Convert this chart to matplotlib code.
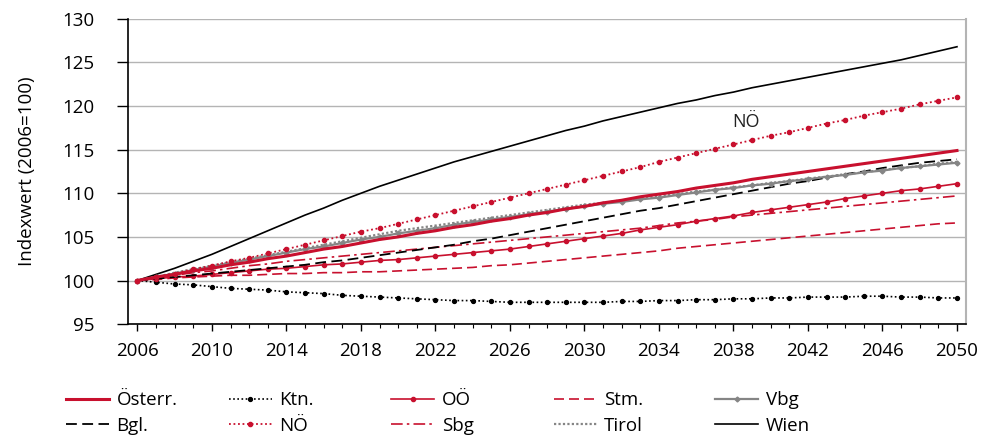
import numpy as np
import matplotlib
matplotlib.use("Agg")
from matplotlib import pyplot as plt
from matplotlib.ticker import MultipleLocator

plt.rcParams['font.family'] = ['Open Sans', 'DejaVu Sans']

years = list(range(2006, 2051))

oesterr = [100.0, 100.4, 100.7, 101.1, 101.4, 101.8, 102.1, 102.5, 102.8, 103.2,
           103.6, 103.9, 104.3, 104.7, 105.0, 105.4, 105.7, 106.1, 106.4, 106.8,
           107.1, 107.5, 107.8, 108.2, 108.5, 108.9, 109.2, 109.6, 109.9, 110.2,
           110.6, 110.9, 111.2, 111.6, 111.9, 112.2, 112.5, 112.8, 113.1, 113.4,
           113.7, 114.0, 114.3, 114.6, 114.9]
bgl = [100.0, 100.2, 100.4, 100.6, 100.8, 101.0, 101.2, 101.4, 101.6, 101.8,
       102.1, 102.3, 102.6, 102.9, 103.2, 103.5, 103.8, 104.1, 104.5, 104.8,
       105.2, 105.6, 106.0, 106.4, 106.8, 107.2, 107.6, 108.0, 108.3, 108.7,
       109.1, 109.5, 109.9, 110.3, 110.7, 111.1, 111.4, 111.8, 112.2, 112.5,
       112.9, 113.2, 113.5, 113.7, 113.9]
ktn = [100.0, 99.8, 99.6, 99.5, 99.3, 99.1, 99.0, 98.9, 98.7, 98.6,
       98.5, 98.3, 98.2, 98.1, 98.0, 97.9, 97.8, 97.7, 97.7, 97.6,
       97.5, 97.5, 97.5, 97.5, 97.5, 97.5, 97.6, 97.6, 97.7, 97.7,
       97.8, 97.8, 97.9, 97.9, 98.0, 98.0, 98.1, 98.1, 98.1, 98.2,
       98.2, 98.1, 98.1, 98.0, 98.0]
noe = [100.0, 100.4, 100.8, 101.3, 101.7, 102.2, 102.6, 103.1, 103.6, 104.1,
       104.6, 105.1, 105.6, 106.0, 106.5, 107.0, 107.5, 108.0, 108.5, 109.0,
       109.5, 110.0, 110.5, 111.0, 111.5, 112.0, 112.5, 113.0, 113.6, 114.1,
       114.6, 115.1, 115.6, 116.1, 116.6, 117.0, 117.5, 118.0, 118.4, 118.9,
       119.3, 119.7, 120.2, 120.6, 121.0]
ooe = [100.0, 100.2, 100.4, 100.5, 100.7, 100.9, 101.1, 101.3, 101.4, 101.6,
       101.8, 101.9, 102.1, 102.3, 102.4, 102.6, 102.8, 103.0, 103.2, 103.4,
       103.6, 103.9, 104.2, 104.5, 104.8, 105.1, 105.4, 105.8, 106.1, 106.4,
       106.8, 107.1, 107.4, 107.8, 108.1, 108.4, 108.7, 109.0, 109.4, 109.7,
       110.0, 110.3, 110.5, 110.8, 111.1]
sbg = [100.0, 100.3, 100.6, 100.9, 101.1, 101.4, 101.7, 101.9, 102.2, 102.4,
       102.6, 102.8, 103.0, 103.2, 103.4, 103.6, 103.8, 104.0, 104.2, 104.4,
       104.6, 104.8, 105.0, 105.2, 105.4, 105.6, 105.8, 106.0, 106.3, 106.6,
       106.8, 107.0, 107.3, 107.5, 107.7, 107.9, 108.1, 108.3, 108.5, 108.7,
       108.9, 109.1, 109.3, 109.5, 109.7]
stm = [100.0, 100.1, 100.3, 100.4, 100.5, 100.6, 100.6, 100.7, 100.8, 100.8,
       100.9, 100.9, 101.0, 101.0, 101.1, 101.2, 101.3, 101.4, 101.5, 101.7,
       101.8, 102.0, 102.2, 102.4, 102.6, 102.8, 103.0, 103.2, 103.4, 103.7,
       103.9, 104.1, 104.3, 104.5, 104.7, 104.9, 105.1, 105.3, 105.5, 105.7,
       105.9, 106.1, 106.3, 106.5, 106.6]
tirol = [100.0, 100.4, 100.9, 101.3, 101.7, 102.1, 102.5, 102.9, 103.3, 103.7,
         104.1, 104.5, 104.9, 105.3, 105.7, 106.0, 106.3, 106.6, 106.9, 107.2,
         107.5, 107.8, 108.1, 108.4, 108.7, 108.9, 109.2, 109.4, 109.7, 109.9,
         110.2, 110.4, 110.7, 110.9, 111.2, 111.4, 111.7, 111.9, 112.2, 112.4,
         112.7, 112.9, 113.1, 113.4, 113.6]
vbg = [100.0, 100.4, 100.8, 101.2, 101.6, 102.0, 102.4, 102.8, 103.2, 103.6,
       103.9, 104.3, 104.7, 105.0, 105.4, 105.7, 106.0, 106.4, 106.7, 107.0,
       107.3, 107.6, 107.9, 108.2, 108.5, 108.8, 109.0, 109.3, 109.5, 109.8,
       110.1, 110.4, 110.6, 110.9, 111.1, 111.4, 111.6, 111.9, 112.1, 112.4,
       112.6, 112.9, 113.1, 113.3, 113.5]
wien = [100.0, 100.7, 101.4, 102.2, 103.0, 103.9, 104.8, 105.7, 106.6, 107.5,
        108.3, 109.2, 110.0, 110.8, 111.5, 112.2, 112.9, 113.6, 114.2, 114.8,
        115.4, 116.0, 116.6, 117.2, 117.7, 118.3, 118.8, 119.3, 119.8, 120.3,
        120.7, 121.2, 121.6, 122.1, 122.5, 122.9, 123.3, 123.7, 124.1, 124.5,
        124.9, 125.3, 125.8, 126.3, 126.8]

red = "#c8102e"
grey = "#858585"

fig = plt.figure(figsize=(9.85, 4.38), dpi=100)
ax = fig.add_axes([0.130, 0.260, 0.851, 0.697])

# draw in back-to-front order
h = {}
h["Wien"], = ax.plot(years, wien, color="black", lw=1.2)
h["Ktn."], = ax.plot(years, ktn, color="black", lw=1.2, ls=(0, (1, 1.5)),
                     marker="o", ms=2.8)
h["Stm."], = ax.plot(years, stm, color=red, lw=1.2, ls=(0, (6, 3)))
h["Sbg"], = ax.plot(years, sbg, color=red, lw=1.2, ls=(0, (7, 2.5, 1.5, 2.5)))
h["OÖ"], = ax.plot(years, ooe, color=red, lw=1.2, marker="o", ms=3)
h["Bgl."], = ax.plot(years, bgl, color="black", lw=1.3, ls=(0, (6, 3)))
h["Vbg"], = ax.plot(years, vbg, color=grey, lw=1.6, marker="D", ms=2.5)
h["Tirol"], = ax.plot(years, tirol, color=grey, lw=1.6, ls=(0, (1, 1)))
h["Österr."], = ax.plot(years, oesterr, color=red, lw=2.2)
h["NÖ"], = ax.plot(years, noe, color=red, lw=1.3, ls=(0, (1, 1.5)),
                   marker="o", ms=3)

ax.text(2038.7, 118.2, "NÖ", fontsize=13, ha="center", va="center",
        color="#222222")

ax.set_xlim(2005.5, 2050.5)
ax.set_ylim(95, 130)
ax.set_xticks(range(2006, 2051, 4))
ax.xaxis.set_minor_locator(MultipleLocator(1))
ax.set_yticks(range(95, 131, 5))
ax.tick_params(axis="y", direction="out", length=8, width=1, labelsize=13.5,
               colors="black", pad=16)
ax.tick_params(axis="x", which="major", direction="out", length=5, width=1,
               labelsize=13.5, pad=8)
ax.tick_params(axis="x", which="minor", direction="out", length=3, width=0.8)
ax.yaxis.grid(True, color="#b4b4b4", lw=1)
ax.set_axisbelow(True)
ax.spines["top"].set_visible(False)
ax.spines["right"].set_color("#b4b4b4")
ax.spines["right"].set_linewidth(1.5)
ax.spines["left"].set_linewidth(1.2)
ax.spines["bottom"].set_linewidth(1.2)
ax.set_ylabel("Indexwert (2006=100)", fontsize=13.5)
ax.yaxis.set_label_coords(-0.110, 0.5)

# legend: five fixed-width columns, two rows each
columns = [["Österr.", "Bgl."], ["Ktn.", "NÖ"], ["OÖ", "Sbg"],
           ["Stm.", "Tirol"], ["Vbg", "Wien"]]
col_x = [0.067, 0.232, 0.397, 0.562, 0.726]
for names, x in zip(columns, col_x):
    leg = fig.legend([h[k] for k in names], names, loc="upper left",
                     bbox_to_anchor=(x, 0.107), frameon=False, fontsize=13.5,
                     handlelength=2.3, handletextpad=0.4, labelspacing=0.4,
                     borderpad=0, borderaxespad=0)

fig.savefig("out.png", dpi=100)
